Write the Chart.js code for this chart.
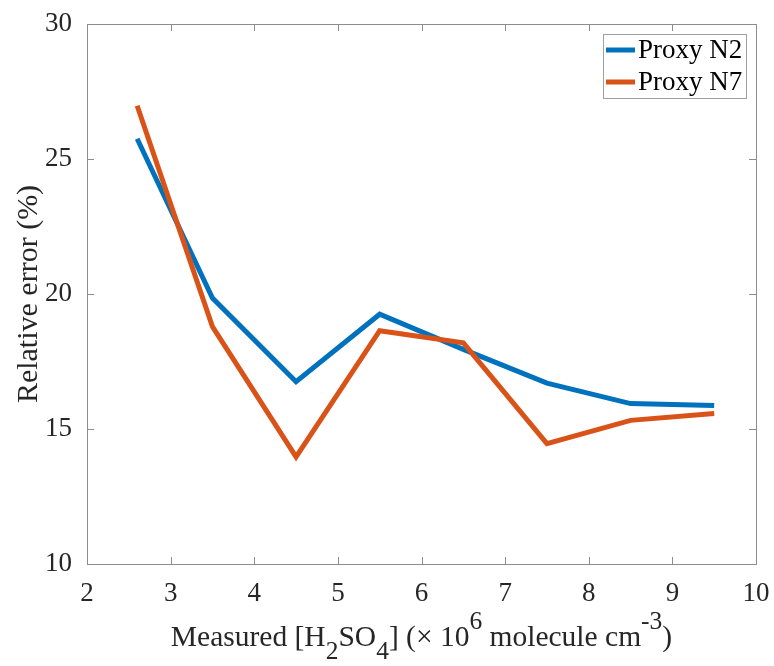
<!DOCTYPE html>
<html>
<head>
<meta charset="utf-8">
<script src="https://cdn.jsdelivr.net/npm/chart.js@4"></script>
<style>
html,body{margin:0;padding:0;background:#ffffff;}
#wrap{width:774px;height:666px;}
</style>
</head>
<body>
<div id="wrap"><canvas id="c" width="774" height="666"></canvas></div>
<script>
// ---- data ----
const xValues = [2.6, 3.5, 4.5, 5.5, 6.5, 7.5, 8.5, 9.5];
const proxyN2 = [25.75, 19.85, 16.75, 19.25, 17.95, 16.70, 15.94, 15.87];
const proxyN7 = [26.97, 18.79, 13.97, 18.64, 18.19, 14.46, 15.32, 15.57];
const seriesNames = ['Proxy N2', 'Proxy N7'];
const seriesColors = ['#0072BD', '#D95319'];
const xTicks = [2, 3, 4, 5, 6, 7, 8, 9, 10];
const yTicks = [10, 15, 20, 25, 30];
const yTitle = 'Relative error (%)';
const xTitleParts = [
  ['Measured [H', 'n'], ['2', 'sub'], ['SO', 'n'], ['4', 'sub'],
  ['] (\u00D7 10', 'n'], ['6', 'sup'], [' molecule cm', 'n'], ['-3', 'sup'], [')', 'n']
];

const FONT = '"Liberation Serif", "Times New Roman", serif';
const AXIS_COLOR = '#8c8c8c';
const TEXT_COLOR = '#262626';

function pts(ys) { return xValues.map((x, i) => ({ x: x, y: ys[i] })); }

const framePlugin = {
  id: 'frame',
  afterDraw(chart) {
    const ctx = chart.ctx;
    const a = chart.chartArea;
    const xs = chart.scales.x, ys = chart.scales.y;
    ctx.save();
    // box
    ctx.strokeStyle = AXIS_COLOR;
    ctx.lineWidth = 1;
    ctx.strokeRect(Math.round(a.left) + 0.5, Math.round(a.top) + 0.5,
                   Math.round(a.right - a.left), Math.round(a.bottom - a.top));
    // inward ticks
    const tl = 7;
    ctx.beginPath();
    xTicks.forEach(v => {
      const px = Math.round(xs.getPixelForValue(v)) + 0.5;
      ctx.moveTo(px, a.bottom); ctx.lineTo(px, a.bottom - tl);
      ctx.moveTo(px, a.top); ctx.lineTo(px, a.top + tl);
    });
    yTicks.forEach(v => {
      const py = Math.round(ys.getPixelForValue(v)) + 0.5;
      ctx.moveTo(a.left, py); ctx.lineTo(a.left + tl, py);
      ctx.moveTo(a.right, py); ctx.lineTo(a.right - tl, py);
    });
    ctx.stroke();

    // legend
    const lx = 603, ly = 34, lw = 143, lh = 64;
    ctx.fillStyle = '#ffffff';
    ctx.fillRect(lx, ly, lw, lh);
    ctx.strokeStyle = '#a0a0a0';
    ctx.strokeRect(lx + 0.5, ly + 0.5, lw, lh);
    ctx.font = '27px ' + FONT;
    ctx.textBaseline = 'middle';
    ctx.textAlign = 'left';
    chart.data.datasets.forEach((ds, i) => {
      const cy = ly + 16 + i * 32;
      ctx.strokeStyle = ds.borderColor;
      ctx.lineWidth = 5;
      ctx.beginPath();
      ctx.moveTo(lx + 3, cy); ctx.lineTo(lx + 32, cy);
      ctx.stroke();
      ctx.fillStyle = '#000000';
      ctx.fillText(ds.label, lx + 35, cy + 1);
    });

    // y title
    ctx.fillStyle = TEXT_COLOR;
    ctx.font = '30px ' + FONT;
    ctx.textAlign = 'center';
    ctx.textBaseline = 'alphabetic';
    ctx.save();
    ctx.translate(37, (a.top + a.bottom) / 2);
    ctx.rotate(-Math.PI / 2);
    ctx.fillText(yTitle, 0, 0);
    ctx.restore();

    // x title with sub/superscripts
    const mainF = '29.5px ' + FONT, smallF = '25.5px ' + FONT;
    let total = 0;
    const widths = xTitleParts.map(p => {
      ctx.font = p[1] === 'n' ? mainF : smallF;
      const w = ctx.measureText(p[0]).width;
      total += w;
      return w;
    });
    let x = (a.left + a.right) / 2 - total / 2;
    const base = 646;
    ctx.textAlign = 'left';
    xTitleParts.forEach((p, i) => {
      ctx.font = p[1] === 'n' ? mainF : smallF;
      let y = base;
      if (p[1] === 'sub') y = base + 13;
      if (p[1] === 'sup') y = base - 17;
      ctx.fillText(p[0], x, y);
      x += widths[i];
    });
    ctx.restore();
  }
};

new Chart(document.getElementById('c'), {
  type: 'line',
  data: {
    datasets: [
      { label: seriesNames[0], data: pts(proxyN2), borderColor: seriesColors[0], backgroundColor: seriesColors[0],
        borderWidth: 5, pointRadius: 0, tension: 0, fill: false, order: 1 },
      { label: seriesNames[1], data: pts(proxyN7), borderColor: seriesColors[1], backgroundColor: seriesColors[1],
        borderWidth: 5, pointRadius: 0, tension: 0, fill: false, order: 0 }
    ]
  },
  options: {
    responsive: false,
    animation: false,
    devicePixelRatio: 1,
    layout: { padding: { left: 0, top: 24, right: 18, bottom: 0 } },
    plugins: { legend: { display: false }, tooltip: { enabled: false } },
    scales: {
      x: {
        type: 'linear', min: 2, max: 10,
        afterBuildTicks: s => { s.ticks = xTicks.map(v => ({ value: v })); },
        afterFit: s => { s.height = 102; s.paddingLeft = 0; s.paddingRight = 0; },
        grid: { display: false, drawTicks: false },
        border: { display: false },
        ticks: { padding: 14, color: TEXT_COLOR, font: { family: FONT, size: 27 }, maxRotation: 0, autoSkip: false }
      },
      y: {
        type: 'linear', min: 10, max: 30,
        afterBuildTicks: s => { s.ticks = yTicks.map(v => ({ value: v })); },
        afterFit: s => { s.width = 87; s.paddingTop = 0; s.paddingBottom = 0; },
        grid: { display: false, drawTicks: false },
        border: { display: false },
        ticks: { padding: 15, color: TEXT_COLOR, font: { family: FONT, size: 27 } }
      }
    }
  },
  plugins: [framePlugin]
});
</script>
</body>
</html>
